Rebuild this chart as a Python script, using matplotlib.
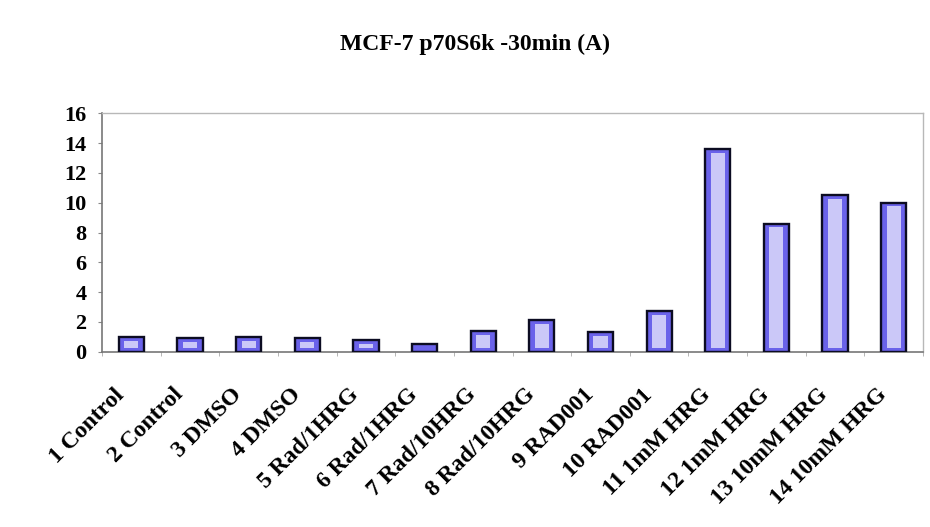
import matplotlib
matplotlib.use("Agg")
import matplotlib.pyplot as plt
from matplotlib.transforms import ScaledTranslation
import numpy as np

categories = ["1 Control", "2 Control", "3 DMSO", "4 DMSO", "5 Rad/1HRG",
              "6 Rad/1HRG", "7 Rad/10HRG", "8 Rad/10HRG", "9 RAD001",
              "10 RAD001", "11 1mM HRG", "12 1mM HRG", "13 10mM HRG",
              "14 10mM HRG"]
values = [1.0, 0.9, 1.0, 0.9, 0.8, 0.5, 1.4, 2.1, 1.3, 2.7, 13.6, 8.6, 10.5, 10.0]
yticks = [0, 2, 4, 6, 8, 10, 12, 14, 16]
title = "MCF-7 p70S6k -30min (A)"

serif = ["Liberation Serif", "DejaVu Serif"]

fig = plt.figure(figsize=(9.3, 5.27), dpi=100)
ax = fig.add_axes([0.1097, 0.3326, 0.8828, 0.4524])

x = np.arange(len(categories))
ax.bar(x, values, width=0.43, color="#6a62ea", edgecolor="#0c0c22",
       linewidth=1.7, zorder=3)
# pale speckled core of each bar
core = [max(v - 0.5, 0) for v in values]
ax.bar(x, core, bottom=0.25, width=0.24, color="#e4e2fc",
       edgecolor="none", zorder=4, alpha=0.8)

ax.set_xlim(-0.5, len(categories) - 0.5)
ax.set_ylim(0, 16)
ax.set_yticks(yticks)
ax.set_yticklabels([str(t) for t in yticks], fontfamily=serif,
                   fontweight="bold", fontsize=16)
ax.set_xticks(x)
ax.set_xticklabels(categories, rotation=45, ha="right", va="center",
                   rotation_mode="anchor", fontfamily=serif,
                   fontweight="bold", fontsize=17)
ax.tick_params(axis="x", length=0, pad=0)
shift = ScaledTranslation(-0.10, -0.40, fig.dpi_scale_trans)
for lbl in ax.get_xticklabels():
    lbl.set_transform(lbl.get_transform() + shift)
ax.tick_params(axis="y", length=3, color="#888888", pad=8)
ax.set_xticks(np.arange(-0.5, len(categories), 1.0), minor=True)
ax.tick_params(axis="x", which="minor", length=3, color="#aaaaaa")

for side in ["top", "right"]:
    ax.spines[side].set_color("#b8b8b8")
    ax.spines[side].set_linewidth(1.0)
for side in ["left", "bottom"]:
    ax.spines[side].set_color("#777777")
    ax.spines[side].set_linewidth(1.2)

fig.text(0.511, 0.915, title, ha="center", va="center", fontfamily=serif,
         fontweight="bold", fontsize=17)

fig.savefig("out.png", dpi=100)
